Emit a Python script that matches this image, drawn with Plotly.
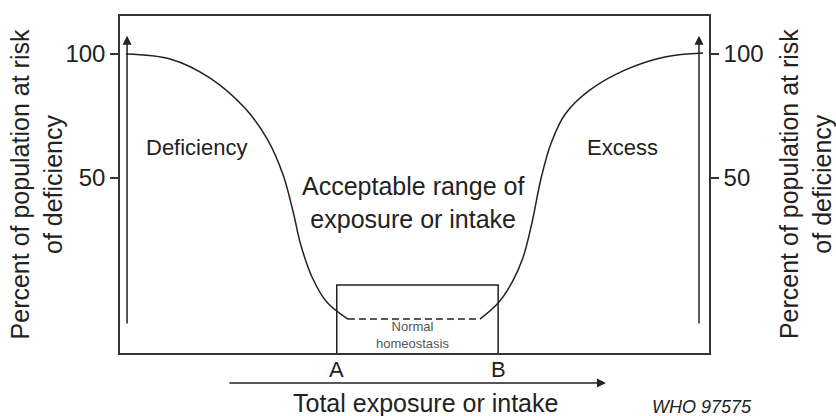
import plotly.graph_objects as go

# ---- data (x: exposure/intake in arbitrary units 0-100, y: % at risk) ----
left_x = [1.0, 8.5, 15.3, 21.2, 25.1, 27.7, 29.4, 30.7, 32.6, 35.1, 38.7]
left_y = [100, 98.0, 90.3, 78.2, 65.3, 51.2, 36.3, 23.0, 10.1, 0.0, -6.9]

homeo_x = [38.7, 61.1]
homeo_y = [-6.9, -6.9]

right_x = [61.1, 64.2, 66.6, 68.4, 69.9, 71.5, 73.2, 75.6, 79.8, 85.7, 92.5, 99.0]
right_y = [-6.9, -0.4, 8.1, 17.7, 31.5, 50.0, 64.1, 75.8, 85.5, 93.5, 98.8, 100.4]

bound_labels = ["A", "B"]
bound_x = [36.8, 64.2]
box_top = 6.9

y_ticks = [50, 100]
y_tick_text = ["50", "100"]

Y_RANGE = [-20.56, 115.3]
X_RANGE = [0, 100]

INK = "#222222"
FONT = "Liberation Sans, Arial, Helvetica, sans-serif"

fig = go.Figure()

curve_line = dict(color=INK, width=1.5, shape="spline", smoothing=1.0)
fig.add_trace(go.Scatter(x=left_x, y=left_y, mode="lines", line=curve_line,
                         hoverinfo="skip", showlegend=False))
fig.add_trace(go.Scatter(x=right_x, y=right_y, mode="lines", line=curve_line,
                         hoverinfo="skip", showlegend=False))
fig.add_trace(go.Scatter(x=homeo_x, y=homeo_y, mode="lines", line=dict(color=INK, width=1.5, dash="7px,4px"),
                         hoverinfo="skip", showlegend=False))
# normal homeostasis box between A and B
fig.add_trace(go.Scatter(x=[bound_x[0], bound_x[0], bound_x[1], bound_x[1]],
                         y=[Y_RANGE[0], box_top, box_top, Y_RANGE[0]],
                         mode="lines", line=dict(color=INK, width=1.5),
                         hoverinfo="skip", showlegend=False))
# invisible trace for right axis
fig.add_trace(go.Scatter(x=[None], y=[None], yaxis="y2", showlegend=False, hoverinfo="skip"))

axis_common = dict(showline=True, linecolor="#333333", linewidth=1.5, showgrid=False, zeroline=False)

fig.update_layout(
    width=836, height=416,
    margin=dict(l=120, r=127, t=16, b=63),
    paper_bgcolor="white", plot_bgcolor="white",
    font=dict(family=FONT, color=INK),
    xaxis=dict(range=X_RANGE, showticklabels=False, ticks="", mirror=True, **axis_common),
    yaxis=dict(range=Y_RANGE, tickvals=y_ticks, ticktext=y_tick_text, ticks="outside", ticklen=8,
               tickwidth=1.5, tickcolor="#333333", tickfont=dict(size=24, color=INK, family=FONT),
               mirror=True, **axis_common),
    yaxis2=dict(range=Y_RANGE, overlaying="y", side="right", tickvals=y_ticks, ticktext=y_tick_text,
                ticks="outside", ticklen=8, tickwidth=1.5, tickcolor="#333333",
                tickfont=dict(size=24, color=INK, family=FONT), **axis_common),
)

C = dict(xanchor="center", yanchor="middle")
ann = []
# axis titles
title_txt = "Percent of population at risk<br>of deficiency"
ann.append(dict(text=title_txt, xref="paper", yref="paper", x=-0.141, y=0.5, textangle=-90,
                showarrow=False, font=dict(size=25, family=FONT, color=INK), **C))
ann.append(dict(text=title_txt, xref="paper", yref="paper", x=1.164, y=0.5, textangle=-90,
                showarrow=False, font=dict(size=25, family=FONT, color=INK), **C))
# region labels
ann.append(dict(text="Deficiency", x=13.0, y=62.1, xref="x", yref="y", showarrow=False,
                font=dict(size=22, family=FONT, color=INK), **C))
ann.append(dict(text="Excess", x=85.3, y=62.1, xref="x", yref="y", showarrow=False,
                font=dict(size=22, family=FONT, color=INK), **C))
ann.append(dict(text="Acceptable range of<br>exposure or intake", x=49.8, y=40.1, xref="x", yref="y",
                showarrow=False, font=dict(size=25, family=FONT, color=INK), **C))
ann.append(dict(text="Normal<br>homeostasis", x=49.7, y=-13.5, xref="x", yref="y", showarrow=False,
                font=dict(size=13, family=FONT, color="#555555"), **C))
# A / B labels
for lab, bx in zip(bound_labels, bound_x):
    ann.append(dict(text=lab, x=bx, y=-0.050, xref="x", yref="paper", showarrow=False,
                    font=dict(size=22, family=FONT, color=INK), **C))
# vertical arrows
for axx in [1.2, 98.3]:
    ann.append(dict(x=axx, y=107.3, ax=axx, ay=-9.3, xref="x", yref="y", axref="x", ayref="y",
                    text="", showarrow=True, arrowhead=2, arrowsize=1.2, arrowwidth=1.5, arrowcolor=INK))
# horizontal arrow
ann.append(dict(x=82.5, y=-0.089, xref="x", yref="paper", ax=-378, ay=0, text="", showarrow=True,
                arrowhead=2, arrowsize=1.2, arrowwidth=1.5, arrowcolor=INK))
ann.append(dict(text="Total exposure or intake", x=51.8, y=-0.148, xref="x", yref="paper", showarrow=False,
                font=dict(size=25, family=FONT, color=INK), **C))
ann.append(dict(text="<i>WHO 97575</i>", x=98.8, y=-0.160, xref="x", yref="paper", showarrow=False,
                font=dict(size=18, family=FONT, color=INK), **C))

fig.update_layout(annotations=ann)

fig.write_html("out.html", config={"displayModeBar": False},
               post_script="document.body.style.margin='0px';")
